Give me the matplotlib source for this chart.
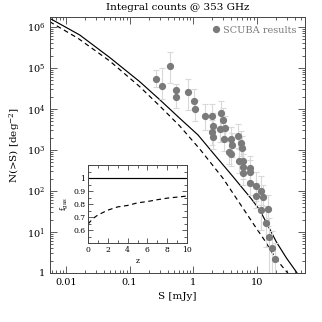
import numpy as np
import matplotlib
matplotlib.use("Agg")
import matplotlib.pyplot as plt
from matplotlib.lines import Line2D
from matplotlib.ticker import FixedLocator, FuncFormatter, LogLocator, NullFormatter, MultipleLocator

plt.rcParams['font.family'] = ['DejaVu Serif']
plt.rcParams['mathtext.fontset'] = 'dejavuserif'

# ---- model curves (log10 S [mJy], log10 N(>S) [deg^-2]) ----
model_logS = [-2.257, -1.784, -1.312, -0.839, -0.524, -0.209, 0.079, 0.342, 0.630,
              0.920, 1.050, 1.208, 1.313, 1.471, 1.628, 1.775]
model_logN = [6.212, 5.805, 5.256, 4.666, 4.227, 3.773, 3.366, 2.878, 2.349,
              1.805, 1.537, 1.073, 0.756, 0.366, 0.024, -0.317]

gas_logS = [-2.257, -1.811, -1.312, -0.839, -0.524, -0.209, 0.106, 0.472, 0.735,
            0.998, 1.129, 1.260, 1.392, 1.491, 1.617]
gas_logN = [6.129, 5.724, 5.171, 4.544, 4.073, 3.585, 3.024, 2.310, 1.700,
            1.090, 0.793, 0.463, 0.183, 0.0, -0.293]

# ---- SCUBA data ----
scuba_S = [0.265, 0.33, 0.43, 0.535, 0.535, 0.834, 1.04, 1.06, 1.57, 2.02, 2.80,
           2.07, 2.97, 2.02, 2.07, 2.63, 3.24, 3.08, 4.02, 5.11, 3.69, 4.02, 4.14,
           5.70, 5.85, 5.24, 6.13, 6.13, 7.81, 7.81, 6.13, 8.02, 9.82, 11.8, 9.89,
           12.7, 11.9, 15.4, 14.0, 15.8, 17.5, 19.9]
scuba_N = [54000, 35400, 112000, 29600, 19600, 26400, 15800, 10200, 6700, 6700, 7850,
           3920, 5400, 2700, 2110, 3200, 3380, 1850, 1850, 2190, 910, 800, 1320,
           1440, 1100, 533, 533, 392, 358, 283, 275, 161, 131, 102, 77.6,
           70.2, 35, 35.8, 16.9, 7.67, 4.14, 2.17]
# errors in dex (up, down)
scuba_err_up = [0.22, 0.45, 0.35, 0.15, 0.15, 0.32, 0.3, 0.2, 0.3, 0.3, 0.3,
                0.3, 0.3, 0.3, 0.3, 0.35, 0.3, 0.3, 0.3, 0.3, 0.3, 0.3, 0.3,
                0.3, 0.3, 0.3, 0.3, 0.3, 0.3, 0.3, 0.3, 0.3, 0.35, 0.35, 0.3,
                0.3, 0.45, 0.35, 0.4, 0.45, 0.4, 0.4]
scuba_err_dn = [0.2, 0.3, 0.42, 0.15, 0.27, 0.45, 0.2, 0.3, 0.35, 0.35, 0.3,
                0.3, 0.3, 0.3, 0.3, 0.3, 0.3, 0.3, 0.3, 0.3, 0.3, 0.3, 0.3,
                0.3, 0.3, 0.3, 0.3, 0.3, 0.3, 0.3, 0.3, 0.3, 0.35, 0.35, 0.3,
                0.3, 0.5, 0.4, 0.6, 1.2, 1.2, 1.2]

# ---- inset: gas fraction vs redshift ----
inset_z = [0, 0.5, 1, 2, 3, 4, 5, 6, 7, 8, 9, 10]
inset_fgas = [0.647, 0.69, 0.717, 0.754, 0.779, 0.79, 0.81, 0.82, 0.834, 0.846, 0.854, 0.862]
inset_ref = [1.0] * len(inset_z)

xticks = [0.01, 0.1, 1, 10]
xticklabels = ['0.01', '0.1', '1', '10']

fig = plt.figure(figsize=(3.22, 3.22), dpi=100)
ax = fig.add_axes([50/322, 49/322, 255/322, 256/322])

spine_col = '#444444'
ax.plot(10**np.array(model_logS), 10**np.array(model_logN), color='black', lw=0.85)
ax.plot(10**np.array(gas_logS), 10**np.array(gas_logN), color='black', lw=0.85,
        ls=(0, (4, 3)))

S = np.array(scuba_S)
N = np.array(scuba_N)
yerr = [N - N * 10**(-np.array(scuba_err_dn)), N * 10**np.array(scuba_err_up) - N]
ax.errorbar(S, N, yerr=yerr, fmt='o', color='#7a7a7a', ms=4.2, mec='#7a7a7a',
            ecolor='#d9d9d9', elinewidth=0.8, capsize=2, capthick=0.8, zorder=3)

ax.set_xscale('log')
ax.set_yscale('log')
ax.set_xlim(0.0056, 58)
ax.set_ylim(1, 1.75e6)
ax.xaxis.set_major_locator(FixedLocator(xticks))
ax.set_xticklabels(xticklabels)
ax.xaxis.set_minor_locator(LogLocator(base=10, subs=np.arange(2, 10), numticks=20))
ax.xaxis.set_minor_formatter(NullFormatter())
ax.yaxis.set_major_locator(LogLocator(base=10, numticks=20))
ax.yaxis.set_minor_locator(LogLocator(base=10, subs=np.arange(2, 10), numticks=20))
ax.yaxis.set_minor_formatter(NullFormatter())
ax.yaxis.set_major_formatter(FuncFormatter(
    lambda v, p: '1' if abs(v - 1) < 1e-9 else r'$10^{%d}$' % round(np.log10(v))))

ax.tick_params(which='both', direction='in', top=True, right=True, labelsize=7,
               color=spine_col, width=0.6)
ax.tick_params(which='major', length=5)
ax.tick_params(which='minor', length=2.5)
for sp in ax.spines.values():
    sp.set_color(spine_col)
    sp.set_linewidth(0.7)

ax.set_xlabel('S [mJy]', fontsize=7.5, labelpad=4)
ax.set_ylabel(r'N(>S) [deg$^{-2}$]', fontsize=7.5, labelpad=3)
ax.set_title('Integral counts @ 353 GHz', fontsize=7.5, pad=5)

handle = Line2D([], [], marker='o', ls='none', color='#7a7a7a', ms=4.2)
leg = ax.legend([handle], ['SCUBA results'], loc='upper right', frameon=False,
                fontsize=7, handletextpad=0.2, handlelength=1.0,
                borderaxespad=0.5, labelcolor='#7a7a7a')

# inset
ins = fig.add_axes([88/322, (322-243.3)/322, 99/322, 78.3/322])
ins.plot(inset_z, inset_ref, color='black', lw=0.85)
ins.plot(inset_z, inset_fgas, color='black', lw=0.85, ls=(0, (4, 3)))
ins.set_xlim(0, 10)
ins.set_ylim(0.5, 1.1)
ins.xaxis.set_major_locator(MultipleLocator(2))
ins.xaxis.set_minor_locator(MultipleLocator(1))
ins.yaxis.set_major_locator(FixedLocator([0.6, 0.7, 0.8, 0.9, 1.0]))
ins.yaxis.set_minor_locator(MultipleLocator(0.05))
ins.set_yticklabels(['0.6', '0.7', '0.8', '0.9', '1'])
ins.tick_params(which='both', direction='in', top=True, right=True, labelsize=5.5,
                color=spine_col, width=0.6, pad=2)
ins.tick_params(which='major', length=3.5)
ins.tick_params(which='minor', length=2)
for sp in ins.spines.values():
    sp.set_color(spine_col)
    sp.set_linewidth(0.7)
ins.set_xlabel('z', fontsize=5.5, labelpad=2)
ins.set_ylabel(r'f$_{\rm gas}$', fontsize=5.5, labelpad=2)

fig.savefig('out.png', dpi=100)
